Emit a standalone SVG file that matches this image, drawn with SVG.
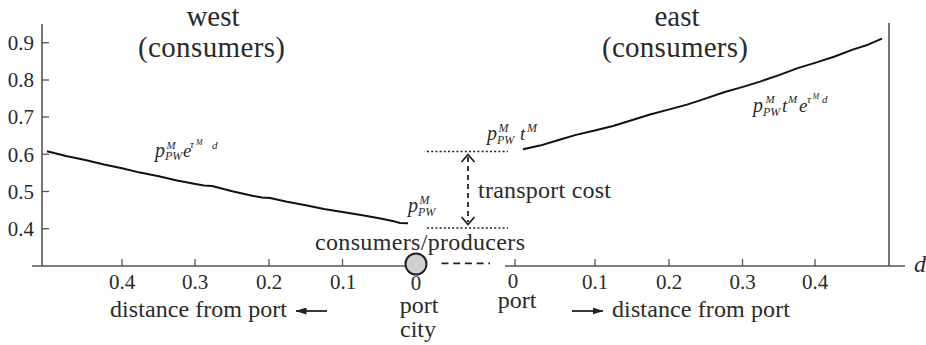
<svg xmlns="http://www.w3.org/2000/svg" width="926" height="345" viewBox="0 0 926 345">
<style>
text{font-family:'Liberation Serif','Times New Roman',serif;fill:#2a2a2a}
.t{font-size:24px}
.ttl{font-size:29px}
.n{font-size:21px}
.m{font-style:italic}
.ax{stroke:#555;stroke-width:1.6;fill:none}
.tk{stroke:#555;stroke-width:1.3}
.cv{stroke:#111;stroke-width:2;fill:none;stroke-linejoin:round}
.dot{stroke:#222;stroke-width:1.6;stroke-dasharray:2 2.2;fill:none}
.dash{stroke:#222;stroke-width:1.8;fill:none}
</style>
<defs>
<marker id="ah" markerWidth="11" markerHeight="7" refX="10.5" refY="3.5" orient="auto" markerUnits="userSpaceOnUse"><path d="M0,0 L11,3.5 L0,7 z" fill="#222"/></marker>
</defs>

<g id="axes">
<line class="ax" x1="42" y1="24" x2="42" y2="266"/>
<line class="ax" x1="32" y1="266" x2="406" y2="266"/>
<line class="ax" x1="505" y1="266" x2="905" y2="266"/>
<line class="ax" x1="889" y1="23" x2="889" y2="266"/>
<g class="tk">
<line x1="42" y1="42.7" x2="49" y2="42.7"/>
<line x1="42" y1="80" x2="49" y2="80"/>
<line x1="42" y1="117" x2="49" y2="117"/>
<line x1="42" y1="154.2" x2="49" y2="154.2"/>
<line x1="42" y1="191.5" x2="49" y2="191.5"/>
<line x1="42" y1="228.7" x2="49" y2="228.7"/>
<line x1="122" y1="259" x2="122" y2="266"/>
<line x1="195" y1="259" x2="195" y2="266"/>
<line x1="269" y1="259" x2="269" y2="266"/>
<line x1="342.5" y1="259" x2="342.5" y2="266"/>
<line x1="515" y1="259" x2="515" y2="266"/>
<line x1="595" y1="259" x2="595" y2="266"/>
<line x1="669" y1="259" x2="669" y2="266"/>
<line x1="742.5" y1="259" x2="742.5" y2="266"/>
<line x1="815" y1="259" x2="815" y2="266"/>
</g>
<g class="n" text-anchor="end">
<text x="34" y="50">0.9</text>
<text x="34" y="87.3">0.8</text>
<text x="34" y="124.3">0.7</text>
<text x="34" y="161.5">0.6</text>
<text x="34" y="198.8">0.5</text>
<text x="34" y="236">0.4</text>
</g>
<g class="n" text-anchor="middle">
<text x="122" y="289">0.4</text>
<text x="195" y="289">0.3</text>
<text x="269" y="289">0.2</text>
<text x="343" y="289">0.1</text>
<text x="595" y="289">0.1</text>
<text x="669" y="289">0.2</text>
<text x="742.5" y="289">0.3</text>
<text x="815" y="289">0.4</text>
</g>
<text class="t m" x="914" y="272">d</text>
</g>

<g id="curves">
<polyline class="cv" points="47,151.2 66,156 85.3,160 104,164.5 122,168.3 140,172.6 158.8,176.3 177,180.4 195.5,183.9 204,185.5 212,186 232.3,191.3 250,195.2 262,197.6 270,198 287,201.8 305.8,205.3 324,208.9 342.5,211.9 361,215 379.3,218.2 395,221.6 400,223 408,223.2"/>
<polyline class="cv" points="523,149.3 540,145.6 557.9,140.3 576,134.9 594.7,130.5 613,126 631.6,120.3 650,114.5 668.4,109.6 687,104.6 705.3,98.6 724,92.3 742.1,87.1 760,81.6 779,75.1 797,68.4 815.8,62.6 834,56.8 852.7,49.6 868,44.7 882,38.6"/>
</g>

<g id="port-city">
<circle cx="416" cy="264" r="10.5" fill="#d0d0d0" stroke="#222" stroke-width="2"/>
<text class="n" x="416" y="290" text-anchor="middle">0</text>
<text class="t" x="419" y="313" text-anchor="middle">port</text>
<text class="t" x="418" y="337" text-anchor="middle">city</text>
</g>

<g id="port">
<text class="n" x="513" y="288" text-anchor="middle">0</text>
<text class="t" x="517" y="308" text-anchor="middle">port</text>
</g>

<g id="connectors">
<line class="dash" x1="441.5" y1="263.3" x2="490" y2="263.3" stroke-dasharray="7 4.7"/>
<line class="dot" x1="427" y1="151.5" x2="508" y2="151.5"/>
<line class="dot" x1="427" y1="228" x2="508" y2="228"/>
<line class="dash" x1="468" y1="157" x2="468" y2="222" stroke-dasharray="5 4"/>
<polyline class="dash" points="461.5,162 468,154.5 474.5,162"/>
<polyline class="dash" points="461.5,217 468,224.5 474.5,217"/>
<line class="dash" x1="327" y1="311" x2="296" y2="311" marker-end="url(#ah)"/>
<line class="dash" x1="572" y1="311" x2="603" y2="311" marker-end="url(#ah)"/>
</g>

<g id="titles">
<text class="ttl" x="213" y="26" text-anchor="middle">west</text>
<text class="ttl" x="138" y="57" textLength="147" lengthAdjust="spacing">(consumers)</text>
<text class="ttl" x="677" y="26" text-anchor="middle">east</text>
<text class="ttl" x="602" y="57" textLength="146" lengthAdjust="spacing">(consumers)</text>
</g>

<g id="labels">
<text class="t" x="315" y="250" textLength="210" lengthAdjust="spacing">consumers/producers</text>
<text class="t" x="478" y="198" textLength="133" lengthAdjust="spacing">transport cost</text>
<text class="t" x="110" y="317" textLength="177" lengthAdjust="spacing">distance from port</text>
<text class="t" x="612" y="317" textLength="178" lengthAdjust="spacing">distance from port</text>
</g>

<g class="m">
<g id="math-west">
<text x="155" y="157" font-size="20">p</text>
<text x="166.5" y="148.5" font-size="11">M</text>
<text x="165" y="160" font-size="12">PW</text>
<text x="183" y="157" font-size="19">e</text>
<text x="190" y="148" font-size="11">τ</text>
<text x="196" y="145" font-size="8">M</text>
<text x="212" y="149" font-size="11">d</text>
</g>
<g id="math-port">
<text x="408" y="212" font-size="20">p</text>
<text x="419.5" y="203.5" font-size="12">M</text>
<text x="418" y="216" font-size="12">PW</text>
</g>
<g id="math-port-import">
<text x="487" y="140" font-size="20">p</text>
<text x="498.5" y="131.5" font-size="12">M</text>
<text x="497" y="144" font-size="12">PW</text>
<text x="520" y="140" font-size="19">t</text>
<text x="527" y="132" font-size="12">M</text>
</g>
<g id="math-east">
<text x="753" y="112" font-size="20">p</text>
<text x="765.5" y="102.5" font-size="11">M</text>
<text x="763" y="116" font-size="12">PW</text>
<text x="782" y="112" font-size="19">t</text>
<text x="788" y="103" font-size="11">M</text>
<text x="799" y="112" font-size="19">e</text>
<text x="807" y="103" font-size="11">τ</text>
<text x="812.5" y="99" font-size="8">M</text>
<text x="822" y="103" font-size="11">d</text>
</g>
</g>
</svg>
